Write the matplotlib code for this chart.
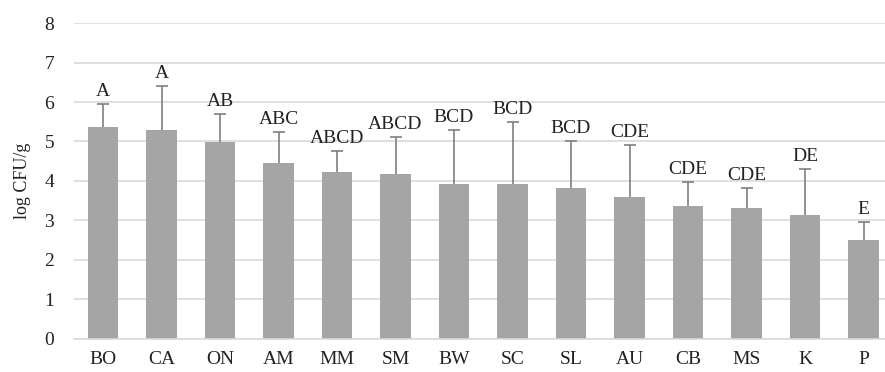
import matplotlib
matplotlib.use("Agg")
import matplotlib.pyplot as plt
import numpy as np

categories = ["BO", "CA", "ON", "AM", "MM", "SM", "BW", "SC", "SL", "AU", "CB", "MS", "K", "P"]
means = [5.36, 5.28, 4.99, 4.45, 4.23, 4.17, 3.93, 3.93, 3.83, 3.59, 3.36, 3.30, 3.13, 2.51]
upper = [5.95, 6.41, 5.69, 5.25, 4.76, 5.12, 5.28, 5.50, 5.02, 4.90, 3.97, 3.81, 4.30, 2.95]
letters = ["A", "A", "AB", "ABC", "ABCD", "ABCD", "BCD", "BCD", "BCD", "CDE", "CDE", "CDE", "DE", "E"]
yticks = [0, 1, 2, 3, 4, 5, 6, 7, 8]

plt.rcParams["font.family"] = ["Liberation Serif", "DejaVu Serif"]

fig = plt.figure(figsize=(8.85, 3.72), dpi=100)
ax = fig.add_axes([73.75 / 885, 0.090, 819 / 885, 0.8474])

x = np.arange(len(categories))
ax.bar(x, means, width=0.52, color="#a5a5a5", zorder=2)
# upper error bars only (no cap at the bar top)
ax.vlines(x, means, upper, color="#7f7f7f", linewidth=1.2, zorder=3)
ax.plot(x, upper, ls="none", marker="_", markersize=8, markeredgewidth=1.2,
        color="#7f7f7f", zorder=3)

for xi, top, lab in zip(x, upper, letters):
    ax.annotate(lab, (xi, top), xytext=(0, 5.8), textcoords="offset points",
                ha="center", va="baseline", fontsize=14, color="#222222")

ax.set_xlim(-0.5, len(categories) - 0.5)
ax.set_ylim(0, 8)
ax.set_yticks(yticks)
ax.set_xticks(x)
ax.set_xticklabels(categories)
ax.tick_params(axis="both", length=0, labelsize=14, colors="#222222")
ax.tick_params(axis="x", pad=9)
ax.tick_params(axis="y", pad=14)
ax.yaxis.grid(True, color="#d9d9d9", linewidth=1.2, zorder=0)
for s in ["top", "right", "left"]:
    ax.spines[s].set_visible(False)
ax.spines["bottom"].set_color("#d9d9d9")
ax.spines["bottom"].set_linewidth(1.2)
ax.set_ylabel("log CFU/g", fontsize=13, color="#222222", labelpad=10)

fig.savefig("out.png", dpi=100)
